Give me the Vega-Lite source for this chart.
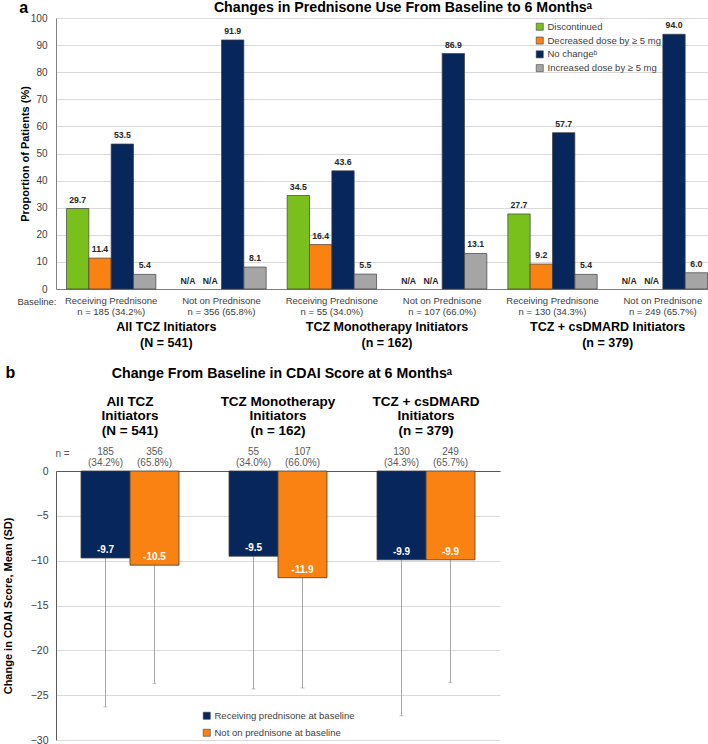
{
  "$schema": "https://vega.github.io/schema/vega-lite/v6.json",
  "background": "white",
  "padding": {"left": 2, "top": 0, "right": 2, "bottom": 0},
  "config": {
    "font": "Liberation Sans",
    "view": {"stroke": null},
    "axis": {"gridColor": "#d9d9d9", "domainColor": "#7f7f7f", "ticks": false, "labelColor": "#404040", "titleColor": "#000000"}
  },
  "spacing": 16,
  "resolve": {"scale": {"color": "independent", "xOffset": "independent"}, "legend": {"color": "independent"}},
  "vconcat": [
    {
      "vconcat": [
        {
          "title": {"text": "Changes in Prednisone Use From Baseline to 6 Monthsᵃ", "fontSize": 14.2, "fontWeight": "bold", "anchor": "middle", "dx": 16, "offset": -15, "frame": "group"},
          "width": 662,
          "height": 271,
          "data": {"values": [
            {"cat": "Receiving Prednisone|n = 185 (34.2%)", "grp": "All TCZ Initiators|(N = 541)", "series": "Discontinued", "value": 29.7},
            {"cat": "Receiving Prednisone|n = 185 (34.2%)", "grp": "All TCZ Initiators|(N = 541)", "series": "Decreased dose by ≥ 5 mg", "value": 11.4},
            {"cat": "Receiving Prednisone|n = 185 (34.2%)", "grp": "All TCZ Initiators|(N = 541)", "series": "No changeᵇ", "value": 53.5},
            {"cat": "Receiving Prednisone|n = 185 (34.2%)", "grp": "All TCZ Initiators|(N = 541)", "series": "Increased dose by ≥ 5 mg", "value": 5.4},
            {"cat": "Not on Prednisone|n = 356 (65.8%)", "grp": "All TCZ Initiators|(N = 541)", "series": "Discontinued", "value": null},
            {"cat": "Not on Prednisone|n = 356 (65.8%)", "grp": "All TCZ Initiators|(N = 541)", "series": "Decreased dose by ≥ 5 mg", "value": null},
            {"cat": "Not on Prednisone|n = 356 (65.8%)", "grp": "All TCZ Initiators|(N = 541)", "series": "No changeᵇ", "value": 91.9},
            {"cat": "Not on Prednisone|n = 356 (65.8%)", "grp": "All TCZ Initiators|(N = 541)", "series": "Increased dose by ≥ 5 mg", "value": 8.1},
            {"cat": "Receiving Prednisone|n = 55 (34.0%)", "grp": "TCZ Monotherapy Initiators|(n = 162)", "series": "Discontinued", "value": 34.5},
            {"cat": "Receiving Prednisone|n = 55 (34.0%)", "grp": "TCZ Monotherapy Initiators|(n = 162)", "series": "Decreased dose by ≥ 5 mg", "value": 16.4},
            {"cat": "Receiving Prednisone|n = 55 (34.0%)", "grp": "TCZ Monotherapy Initiators|(n = 162)", "series": "No changeᵇ", "value": 43.6},
            {"cat": "Receiving Prednisone|n = 55 (34.0%)", "grp": "TCZ Monotherapy Initiators|(n = 162)", "series": "Increased dose by ≥ 5 mg", "value": 5.5},
            {"cat": "Not on Prednisone|n = 107 (66.0%)", "grp": "TCZ Monotherapy Initiators|(n = 162)", "series": "Discontinued", "value": null},
            {"cat": "Not on Prednisone|n = 107 (66.0%)", "grp": "TCZ Monotherapy Initiators|(n = 162)", "series": "Decreased dose by ≥ 5 mg", "value": null},
            {"cat": "Not on Prednisone|n = 107 (66.0%)", "grp": "TCZ Monotherapy Initiators|(n = 162)", "series": "No changeᵇ", "value": 86.9},
            {"cat": "Not on Prednisone|n = 107 (66.0%)", "grp": "TCZ Monotherapy Initiators|(n = 162)", "series": "Increased dose by ≥ 5 mg", "value": 13.1},
            {"cat": "Receiving Prednisone|n = 130 (34.3%)", "grp": "TCZ + csDMARD Initiators|(n = 379)", "series": "Discontinued", "value": 27.7},
            {"cat": "Receiving Prednisone|n = 130 (34.3%)", "grp": "TCZ + csDMARD Initiators|(n = 379)", "series": "Decreased dose by ≥ 5 mg", "value": 9.2},
            {"cat": "Receiving Prednisone|n = 130 (34.3%)", "grp": "TCZ + csDMARD Initiators|(n = 379)", "series": "No changeᵇ", "value": 57.7},
            {"cat": "Receiving Prednisone|n = 130 (34.3%)", "grp": "TCZ + csDMARD Initiators|(n = 379)", "series": "Increased dose by ≥ 5 mg", "value": 5.4},
            {"cat": "Not on Prednisone|n = 249 (65.7%)", "grp": "TCZ + csDMARD Initiators|(n = 379)", "series": "Discontinued", "value": null},
            {"cat": "Not on Prednisone|n = 249 (65.7%)", "grp": "TCZ + csDMARD Initiators|(n = 379)", "series": "Decreased dose by ≥ 5 mg", "value": null},
            {"cat": "Not on Prednisone|n = 249 (65.7%)", "grp": "TCZ + csDMARD Initiators|(n = 379)", "series": "No changeᵇ", "value": 94.0},
            {"cat": "Not on Prednisone|n = 249 (65.7%)", "grp": "TCZ + csDMARD Initiators|(n = 379)", "series": "Increased dose by ≥ 5 mg", "value": 6.0}
          ]},
          "layer": [
            {
              "encoding": {
                "x": {"field": "cat", "type": "nominal", "sort": null,
                  "scale": {"type": "band", "paddingInner": 0.19, "paddingOuter": 0.095},
                  "axis": {"orient": "bottom", "labelExpr": "split(datum.label, '|')", "labelAngle": 0, "labelFontSize": 9.5, "labelLineHeight": 11.5, "labelPadding": 6, "domainColor": "#7f7f7f", "grid": false,
                    "title": "Baseline:", "titleX": 0, "titleY": 12, "titleAlign": "right", "titleBaseline": "middle", "titleFontSize": 9.5, "titleFontWeight": "normal", "titleColor": "#404040"}},
                "xOffset": {"field": "series", "type": "nominal", "sort": null,
                  "scale": {"domain": ["Discontinued", "Decreased dose by ≥ 5 mg", "No changeᵇ", "Increased dose by ≥ 5 mg"], "paddingInner": 0, "paddingOuter": 0}}
              },
              "layer": [
                {
                  "mark": {"type": "bar", "stroke": "#404040", "strokeWidth": 0.7},
                  "encoding": {
                    "y": {"field": "value", "type": "quantitative", "scale": {"domain": [0, 100]},
                      "axis": {"values": [0, 10, 20, 30, 40, 50, 60, 70, 80, 90, 100], "title": "Proportion of Patients (%)", "titleFontSize": 11, "titleFontWeight": "bold", "labelFontSize": 10, "labelPadding": 9, "titlePadding": 0, "domain": true, "domainColor": "#7f7f7f", "grid": true}},
                    "color": {"field": "series", "type": "nominal",
                      "scale": {"domain": ["Discontinued", "Decreased dose by ≥ 5 mg", "No changeᵇ", "Increased dose by ≥ 5 mg"], "range": ["#7AC01C", "#FA8213", "#06265C", "#A5A5A5"]},
                      "legend": {"orient": "none", "legendX": 479, "legendY": 4, "title": null, "symbolType": "square", "symbolSize": 50, "symbolStrokeColor": "#404040", "symbolStrokeWidth": 0.6, "labelFontSize": 9.5, "labelColor": "#404040", "rowPadding": 2.8, "labelOffset": 3}}
                  }
                },
                {
                  "transform": [{"filter": "datum.value != null"}],
                  "mark": {"type": "text", "fontSize": 8.7, "fontWeight": "bold", "dy": -4, "baseline": "bottom", "color": "#262626"},
                  "encoding": {
                    "y": {"field": "value", "type": "quantitative", "scale": {"domain": [0, 100]},
                      "axis": {"values": [0, 10, 20, 30, 40, 50, 60, 70, 80, 90, 100], "title": "Proportion of Patients (%)", "titleFontSize": 11, "titleFontWeight": "bold", "labelFontSize": 10, "labelPadding": 9, "titlePadding": 0, "domain": true, "domainColor": "#7f7f7f", "grid": true}},
                    "text": {"field": "value", "type": "quantitative", "format": ".1f"}
                  }
                },
                {
                  "transform": [{"filter": "datum.value == null"}],
                  "mark": {"type": "text", "fontSize": 8.7, "fontWeight": "bold", "dy": -3, "baseline": "bottom", "color": "#262626"},
                  "encoding": {
                    "y": {"datum": 0, "type": "quantitative", "scale": {"domain": [0, 100]},
                      "axis": {"values": [0, 10, 20, 30, 40, 50, 60, 70, 80, 90, 100], "title": "Proportion of Patients (%)", "titleFontSize": 11, "titleFontWeight": "bold", "labelFontSize": 10, "labelPadding": 9, "titlePadding": 0, "domain": true, "domainColor": "#7f7f7f", "grid": true}},
                    "text": {"value": "N/A"}
                  }
                },
                {
                  "data": {"values": [{"cat": "Receiving Prednisone|n = 185 (34.2%)", "series": "Discontinued", "t": "a"}]},
                  "mark": {"type": "text", "fontSize": 16, "fontWeight": "bold", "dx": -54, "dy": -10, "align": "center", "baseline": "middle", "color": "#000000"},
                  "encoding": {
                    "y": {"datum": 100, "type": "quantitative", "scale": {"domain": [0, 100]},
                      "axis": {"values": [0, 10, 20, 30, 40, 50, 60, 70, 80, 90, 100], "title": "Proportion of Patients (%)", "titleFontSize": 11, "titleFontWeight": "bold", "labelFontSize": 10, "labelPadding": 9, "titlePadding": 0, "domain": true, "domainColor": "#7f7f7f", "grid": true}},
                    "text": {"field": "t"}
                  }
                }
              ]
            },
            {
              "mark": {"type": "text"},
              "encoding": {
                "x": {"field": "grp", "type": "nominal", "sort": null,
                  "scale": {"type": "band", "paddingInner": 0, "paddingOuter": 0},
                  "axis": {"orient": "bottom", "offset": 27, "domain": false, "grid": false, "labelExpr": "split(datum.label, '|')", "labelAngle": 0, "labelFontSize": 12.5, "labelFontWeight": "bold", "labelColor": "#000000", "labelLineHeight": 16, "labelPadding": 4, "title": null}},
                "text": {"value": ""}
              }
            }
          ],
          "resolve": {"scale": {"x": "independent"}, "axis": {"x": "independent"}}
        }
      ]
    },
    {
      "vconcat": [
        {
          "title": {"text": "Change From Baseline in CDAI Score at 6 Monthsᵃ", "fontSize": 14.2, "fontWeight": "bold", "anchor": "middle", "dx": 4, "offset": -16, "frame": "group"},
          "width": 444,
          "height": 269,
          "data": {"values": [
            {"grp": "All TCZ|Initiators|(N = 541)", "status": "Receiving prednisone at baseline", "value": -9.7, "lower": -26.3, "lab": "-9.7", "n": "185\n(34.2%)"},
            {"grp": "All TCZ|Initiators|(N = 541)", "status": "Not on prednisone at baseline", "value": -10.5, "lower": -23.7, "lab": "-10.5", "n": "356\n(65.8%)"},
            {"grp": "TCZ Monotherapy|Initiators|(n = 162)", "status": "Receiving prednisone at baseline", "value": -9.5, "lower": -24.3, "lab": "-9.5", "n": "55\n(34.0%)"},
            {"grp": "TCZ Monotherapy|Initiators|(n = 162)", "status": "Not on prednisone at baseline", "value": -11.9, "lower": -24.2, "lab": "-11.9", "n": "107\n(66.0%)"},
            {"grp": "TCZ + csDMARD|Initiators|(n = 379)", "status": "Receiving prednisone at baseline", "value": -9.9, "lower": -27.3, "lab": "-9.9", "n": "130\n(34.3%)"},
            {"grp": "TCZ + csDMARD|Initiators|(n = 379)", "status": "Not on prednisone at baseline", "value": -9.9, "lower": -23.6, "lab": "-9.9", "n": "249\n(65.7%)"}
          ]},
          "encoding": {
            "x": {"field": "grp", "type": "nominal", "sort": null,
              "scale": {"type": "band", "paddingInner": 0.338, "paddingOuter": 0.169},
              "axis": {"orient": "top", "labelExpr": "split(datum.label, '|')", "labelAngle": 0, "labelFontSize": 13.5, "labelFontWeight": "bold", "labelColor": "#000000", "labelLineHeight": 14.5, "labelPadding": 63, "domain": true, "domainColor": "#595959", "grid": false,
                "title": "n =", "titleX": 6, "titleY": -18, "titleAlign": "center", "titleBaseline": "middle", "titleFontSize": 10, "titleFontWeight": "normal", "titleColor": "#595959"}},
            "xOffset": {"field": "status", "type": "nominal", "sort": null,
              "scale": {"domain": ["Receiving prednisone at baseline", "Not on prednisone at baseline"], "paddingInner": 0, "paddingOuter": 0}}
          },
          "layer": [
            {
              "mark": {"type": "rule", "color": "#A6A6A6", "strokeWidth": 1},
              "encoding": {
                "y": {"field": "value", "type": "quantitative", "scale": {"domain": [-30, 0]},
                  "axis": {"values": [-30, -25, -20, -15, -10, -5, 0], "title": "Change in CDAI Score, Mean (SD)", "titleFontSize": 11, "titleFontWeight": "bold", "labelFontSize": 10.5, "labelPadding": 8, "titlePadding": 17, "domain": true, "domainColor": "#595959", "grid": true}},
                "y2": {"field": "lower"}
              }
            },
            {
              "mark": {"type": "tick", "color": "#A6A6A6", "size": 4, "thickness": 1, "orient": "horizontal"},
              "encoding": {
                "y": {"field": "lower", "type": "quantitative", "scale": {"domain": [-30, 0]},
                  "axis": {"values": [-30, -25, -20, -15, -10, -5, 0], "title": "Change in CDAI Score, Mean (SD)", "titleFontSize": 11, "titleFontWeight": "bold", "labelFontSize": 10.5, "labelPadding": 8, "titlePadding": 17, "domain": true, "domainColor": "#595959", "grid": true}}
              }
            },
            {
              "mark": {"type": "bar", "stroke": "#404040", "strokeWidth": 0.8},
              "encoding": {
                "y": {"field": "value", "type": "quantitative", "scale": {"domain": [-30, 0]},
                  "axis": {"values": [-30, -25, -20, -15, -10, -5, 0], "title": "Change in CDAI Score, Mean (SD)", "titleFontSize": 11, "titleFontWeight": "bold", "labelFontSize": 10.5, "labelPadding": 8, "titlePadding": 17, "domain": true, "domainColor": "#595959", "grid": true}},
                "color": {"field": "status", "type": "nominal",
                  "scale": {"domain": ["Receiving prednisone at baseline", "Not on prednisone at baseline"], "range": ["#06265C", "#FA8213"]},
                  "legend": {"orient": "none", "legendX": 146, "legendY": 240, "title": null, "symbolType": "square", "symbolSize": 50, "symbolStrokeColor": "#404040", "symbolStrokeWidth": 0.6, "labelFontSize": 9.5, "labelColor": "#404040", "rowPadding": 6, "labelOffset": 3}}
              }
            },
            {
              "mark": {"type": "text", "fontSize": 10, "fontWeight": "bold", "color": "#ffffff", "baseline": "bottom", "dy": -3},
              "encoding": {
                "y": {"field": "value", "type": "quantitative", "scale": {"domain": [-30, 0]},
                  "axis": {"values": [-30, -25, -20, -15, -10, -5, 0], "title": "Change in CDAI Score, Mean (SD)", "titleFontSize": 11, "titleFontWeight": "bold", "labelFontSize": 10.5, "labelPadding": 8, "titlePadding": 17, "domain": true, "domainColor": "#595959", "grid": true}},
                "text": {"field": "lab"}
              }
            },
            {
              "mark": {"type": "text", "fontSize": 10, "color": "#595959", "baseline": "bottom", "dy": -14, "lineBreak": "\n", "lineHeight": 10.5},
              "encoding": {
                "y": {"datum": 0, "type": "quantitative", "scale": {"domain": [-30, 0]},
                  "axis": {"values": [-30, -25, -20, -15, -10, -5, 0], "title": "Change in CDAI Score, Mean (SD)", "titleFontSize": 11, "titleFontWeight": "bold", "labelFontSize": 10.5, "labelPadding": 8, "titlePadding": 17, "domain": true, "domainColor": "#595959", "grid": true}},
                "text": {"field": "n"}
              }
            },
            {
              "data": {"values": [{"grp": "All TCZ|Initiators|(N = 541)", "status": "Receiving prednisone at baseline", "t": "b"}]},
              "mark": {"type": "text", "fontSize": 16, "fontWeight": "bold", "dx": -95, "dy": -98, "align": "center", "baseline": "middle", "color": "#000000"},
              "encoding": {
                "y": {"datum": 0, "type": "quantitative", "scale": {"domain": [-30, 0]},
                  "axis": {"values": [-30, -25, -20, -15, -10, -5, 0], "title": "Change in CDAI Score, Mean (SD)", "titleFontSize": 11, "titleFontWeight": "bold", "labelFontSize": 10.5, "labelPadding": 8, "titlePadding": 17, "domain": true, "domainColor": "#595959", "grid": true}},
                "text": {"field": "t"}
              }
            }
          ]
        }
      ]
    }
  ]
}
